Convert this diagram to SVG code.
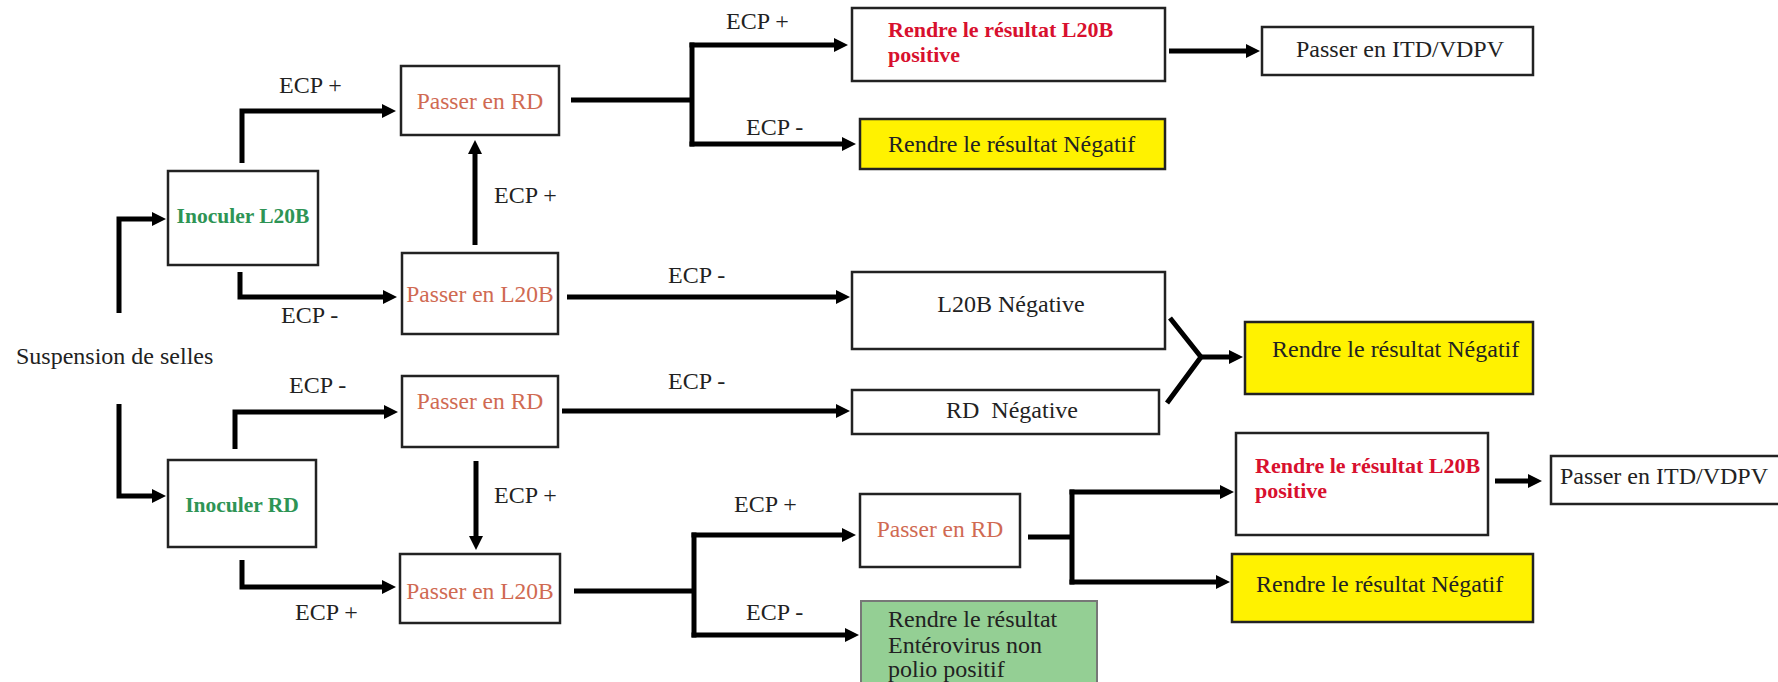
<svg xmlns="http://www.w3.org/2000/svg" width="1778" height="682" viewBox="0 0 1778 682">
<defs>
<marker id="ah" viewBox="0 0 14 14" markerWidth="14" markerHeight="14" refX="4" refY="7" orient="auto" markerUnits="userSpaceOnUse">
<path d="M0,0 L14,7 L0,14 z" fill="#000"/>
</marker>
<style>
.box{fill:#fff;stroke:#222;stroke-width:2.5}
.yel{fill:#fff200;stroke:#222;stroke-width:2.5}
.grn{fill:#94cf94;stroke:#777;stroke-width:2}
.t{font-family:"Liberation Serif",serif;font-size:24px;fill:#222}
.c{text-anchor:middle}
.pass{font-family:"Liberation Serif",serif;font-size:23.5px;fill:#d06a52;text-anchor:middle}
.ino{font-family:"Liberation Serif",serif;font-size:21.5px;font-weight:bold;fill:#2e9455;text-anchor:middle}
.red{font-family:"Liberation Serif",serif;font-size:22px;font-weight:bold;fill:#d8102e}
.ln{fill:none;stroke:#000;stroke-width:5}
.ar{fill:none;stroke:#000;stroke-width:5;marker-end:url(#ah)}
</style>
</defs>
<rect width="1778" height="682" fill="#fff"/>

<g id="connectors">
<path class="ar" d="M119,313 V219 H156"/>
<path class="ar" d="M119,404 V496 H156"/>
<path class="ar" d="M242,163 V111 H386"/>
<path class="ar" d="M240,272 V297 H387"/>
<path class="ar" d="M475,245 V150"/>
<path class="ar" d="M235,449 V412 H388"/>
<path class="ar" d="M476,461 V540"/>
<path class="ar" d="M242,560 V587 H386"/>
<path class="ln" d="M571,100 H692"/>
<path class="ln" d="M692,42.5 V146.5"/>
<path class="ar" d="M689.5,45 H838"/>
<path class="ar" d="M689.5,144 H846"/>
<path class="ar" d="M567,297 H840"/>
<path class="ar" d="M562,411 H840"/>
<path class="ar" d="M1169,51 H1250"/>
<path class="ln" d="M1170,318 L1201,357 L1167,403"/>
<path class="ar" d="M1201,357 H1233"/>
<path class="ln" d="M574,591 H694"/>
<path class="ln" d="M694,532.5 V637.5"/>
<path class="ar" d="M691.5,535 H846"/>
<path class="ar" d="M691.5,635 H849"/>
<path class="ln" d="M1028,537 H1072"/>
<path class="ln" d="M1072,489.5 V584.5"/>
<path class="ar" d="M1069.5,492 H1224"/>
<path class="ar" d="M1069.5,582 H1220"/>
<path class="ar" d="M1495,481 H1532"/>
<text class="t" x="279" y="93">ECP +</text>
<text class="t" x="281" y="323">ECP -</text>
<text class="t" x="494" y="203">ECP +</text>
<text class="t" x="289" y="393">ECP -</text>
<text class="t" x="494" y="503">ECP +</text>
<text class="t" x="295" y="620">ECP +</text>
<text class="t" x="726" y="29">ECP +</text>
<text class="t" x="746" y="135">ECP -</text>
<text class="t" x="668" y="283">ECP -</text>
<text class="t" x="668" y="389">ECP -</text>
<text class="t" x="734" y="512">ECP +</text>
<text class="t" x="746" y="620">ECP -</text>
</g>

<g id="suspension"><text class="t" x="16" y="364">Suspension de selles</text></g>

<g id="inoculer-l20b"><rect class="box" x="168" y="171" width="150" height="94"/><text class="ino" x="243" y="223">Inoculer L20B</text></g>
<g id="inoculer-rd"><rect class="box" x="168" y="460" width="148" height="87"/><text class="ino" x="242" y="512">Inoculer RD</text></g>

<g id="passer-rd-1"><rect class="box" x="401" y="66" width="158" height="69"/><text class="pass" x="480" y="109">Passer en RD</text></g>
<g id="passer-l20b-2"><rect class="box" x="402" y="253" width="156" height="81"/><text class="pass" x="480" y="302">Passer en L20B</text></g>
<g id="passer-rd-3"><rect class="box" x="402" y="376" width="156" height="71"/><text class="pass" x="480" y="409">Passer en RD</text></g>
<g id="passer-l20b-4"><rect class="box" x="400" y="554" width="160" height="69"/><text class="pass" x="480" y="599">Passer en L20B</text></g>

<g id="l20b-positive-1"><rect class="box" x="852" y="8" width="313" height="73"/><text class="red" x="888" y="37">Rendre le résultat L20B</text><text class="red" x="888" y="62">positive</text></g>
<g id="negatif-1"><rect class="yel" x="860" y="119" width="305" height="50"/><text class="t" x="888" y="152">Rendre le résultat Négatif</text></g>
<g id="itd-1"><rect class="box" x="1262" y="27" width="271" height="48"/><text class="t" x="1296" y="57">Passer en ITD/VDPV</text></g>

<g id="l20b-negative"><rect class="box" x="852" y="272" width="313" height="77"/><text class="t c" x="1011" y="312">L20B Négative</text></g>
<g id="rd-negative"><rect class="box" x="852" y="390" width="307" height="44"/><text class="t" x="946" y="418" xml:space="preserve">RD  Négative</text></g>
<g id="negatif-2"><rect class="yel" x="1245" y="322" width="288" height="72"/><text class="t" x="1272" y="357">Rendre le résultat Négatif</text></g>

<g id="passer-rd-5"><rect class="box" x="860" y="494" width="160" height="73"/><text class="pass" x="940" y="537">Passer en RD</text></g>
<g id="enterovirus"><rect class="grn" x="861" y="601" width="236" height="95"/><text class="t" x="888" y="627">Rendre le résultat</text><text class="t" x="888" y="653">Entérovirus non</text><text class="t" x="888" y="677">polio positif</text></g>

<g id="l20b-positive-2"><rect class="box" x="1236" y="433" width="252" height="102"/><text class="red" x="1255" y="473">Rendre le résultat L20B</text><text class="red" x="1255" y="498">positive</text></g>
<g id="itd-2"><rect class="box" x="1551" y="456" width="240" height="48"/><text class="t" x="1560" y="484">Passer en ITD/VDPV</text></g>
<g id="negatif-3"><rect class="yel" x="1232" y="554" width="301" height="68"/><text class="t" x="1256" y="592">Rendre le résultat Négatif</text></g>
</svg>
